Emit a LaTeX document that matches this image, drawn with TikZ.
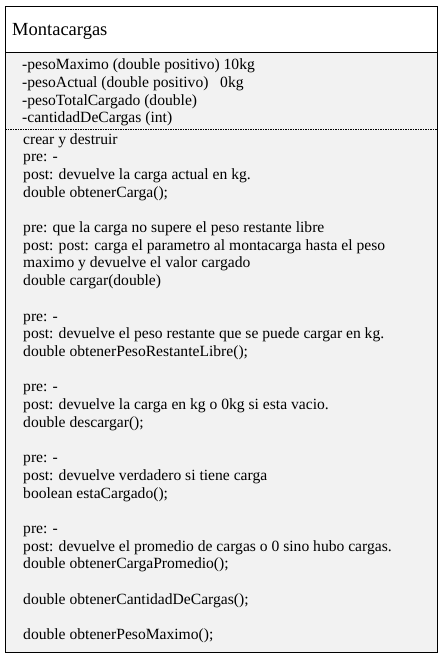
\documentclass[tikz,border=0pt]{standalone}
\usepackage{fontspec}
\setmainfont{Liberation Serif}
\definecolor{fondo}{RGB}{242,242,242}

\begin{document}
\begin{tikzpicture}[x=1pt,y=-1pt,
  titulo/.style={anchor=base west, inner sep=0pt, font=\fontsize{18.5}{22}\selectfont},
  linea/.style={anchor=base west, inner sep=0pt, font=\fontsize{15.6}{18}\selectfont}]
\useasboundingbox (0,0) rectangle (443,661);
\fill [fondo] (5,53) rectangle (437,652);
\draw [line width=1pt] (5,7) rectangle (437,652);
\draw [line width=1pt] (5,53) -- (437,53);
\draw [line width=0.6pt, dash pattern=on 1.5pt off 1pt] (5,129) -- (437,129);

\node [titulo] (clase) at (12,36) {Montacargas};

\foreach \texto [count=\i] in {{-pesoMaximo (double positivo) 10kg},
  {-pesoActual (double positivo)\ \ \ 0kg},
  {-pesoTotalCargado (double)},
  {-cantidadDeCargas (int)}}
  \node [linea] (a\i) at (22,{70+17.5*(\i-1)}) {\texto};

\foreach \texto [count=\i] in {{crear y destruir},
  {pre: -},
  {post: devuelve la carga actual en kg.},
  {double obtenerCarga();},
  {},
  {pre: que la carga no supere el peso restante libre},
  {post: post: carga el parametro al montacarga hasta el peso},
  {maximo y devuelve el valor cargado},
  {double cargar(double)},
  {},
  {pre: -},
  {post: devuelve el peso restante que se puede cargar en kg.},
  {double obtenerPesoRestanteLibre();},
  {},
  {pre: -},
  {post: devuelve la carga en kg o 0kg si esta vacio.},
  {double descargar();},
  {},
  {pre: -},
  {post: devuelve verdadero si tiene carga},
  {boolean estaCargado();},
  {},
  {pre: -},
  {post: devuelve el promedio de cargas o 0 sino hubo cargas.},
  {double obtenerCargaPromedio();},
  {},
  {double obtenerCantidadDeCargas();},
  {},
  {double obtenerPesoMaximo();}}
  \node [linea] (m\i) at (23,{144+17.7*(\i-1)}) {\texto};

\end{tikzpicture}
\end{document}
